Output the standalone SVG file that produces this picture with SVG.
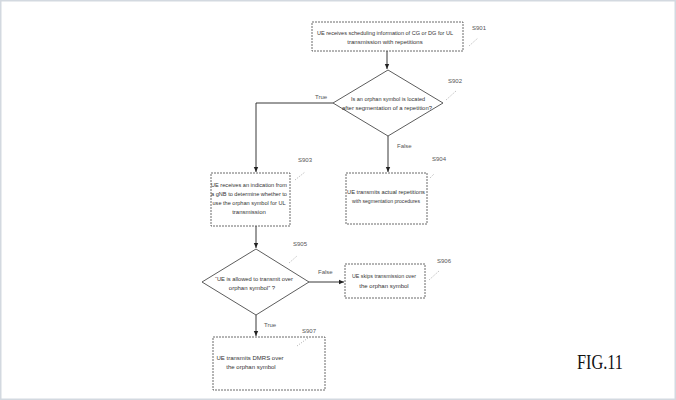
<svg xmlns="http://www.w3.org/2000/svg" width="676" height="400" viewBox="0 0 676 400">
<defs>
<marker id="ah" markerWidth="6" markerHeight="6" refX="5" refY="3" orient="auto" markerUnits="userSpaceOnUse">
<path d="M0,0.8 L5,3 L0,5.2 Z" fill="#222"/>
</marker>
<style>
.box{fill:#fff;stroke:#444;stroke-width:0.8;stroke-dasharray:2 1}
.dia{fill:#fff;stroke:#333;stroke-width:0.8}
.t{font-family:"Liberation Sans",Arial,sans-serif;font-size:6px;fill:#333;text-anchor:middle}
.lb{font-family:"Liberation Sans",Arial,sans-serif;font-size:6px;fill:#555}
.ld{fill:none;stroke:#777;stroke-width:0.6;stroke-dasharray:1 1.5}
.c{fill:none;stroke:#222;stroke-width:0.9}
.fig{font-family:"Liberation Serif","Times New Roman",serif;font-size:21px;fill:#111}
</style>
</defs>
<rect x="0" y="0" width="676" height="400" fill="#fff"/>
<rect x="0.75" y="0.75" width="674.5" height="398.5" fill="none" stroke="#d3d9e0" stroke-width="1.5"/>

<g id="connectors">
<path class="c" d="M387,51 V69" marker-end="url(#ah)"/>
<path class="c" d="M333,103 H256 V172" marker-end="url(#ah)"/>
<path class="c" d="M388,136 V172" marker-end="url(#ah)"/>
<path class="c" d="M256,226 V248" marker-end="url(#ah)"/>
<path class="c" d="M309,282 H344" marker-end="url(#ah)"/>
<path class="c" d="M256,315 V336" marker-end="url(#ah)"/>
<text class="lb" x="315" y="99">True</text>
<text class="lb" x="397" y="148">False</text>
<text class="lb" x="318" y="274">False</text>
<text class="lb" x="264" y="327">True</text>
</g>

<g id="S901">
<rect class="box" x="312" y="22" width="151" height="29"/>
<text class="t" x="385" y="35" textLength="136" lengthAdjust="spacingAndGlyphs">UE receives scheduling information of CG or DG for UL</text>
<text class="t" x="385" y="44">transmission with repetitions</text>
<text class="lb" x="472" y="30">S901</text>
<path class="ld" d="M469,46 L478,38"/>
</g>

<g id="S902">
<polygon class="dia" points="388,70 443,103 388,136 333,103"/>
<text class="t" x="388" y="101" textLength="74" lengthAdjust="spacingAndGlyphs">Is an orphan symbol is located</text>
<text class="t" x="387" y="110" textLength="90" lengthAdjust="spacingAndGlyphs">after segmentation of a repetition?</text>
<text class="lb" x="448" y="83">S902</text>
<path class="ld" d="M446,100 L456,91"/>
</g>

<g id="S903">
<rect class="box" x="211" y="173" width="79" height="53"/>
<text class="t" x="249" y="187" textLength="76" lengthAdjust="spacingAndGlyphs">UE receives an indication from</text>
<text class="t" x="249" y="196" textLength="76" lengthAdjust="spacingAndGlyphs">a gNB to determine whether to</text>
<text class="t" x="249" y="205" textLength="73" lengthAdjust="spacingAndGlyphs">use the orphan symbol for UL</text>
<text class="t" x="249" y="214">transmission</text>
<text class="lb" x="298" y="162">S903</text>
<path class="ld" d="M295,180 L305,172"/>
</g>

<g id="S904">
<rect class="box" x="346" y="173" width="81" height="51"/>
<text class="t" x="386" y="194" textLength="78" lengthAdjust="spacingAndGlyphs">UE transmits actual repetitions</text>
<text class="t" x="386" y="203" textLength="68" lengthAdjust="spacingAndGlyphs">with segmentation procedures</text>
<text class="lb" x="432" y="161">S904</text>
<path class="ld" d="M430,178 L434,174"/>
</g>

<g id="S905">
<polygon class="dia" points="256,249 309,282 256,315 202,282"/>
<text class="t" x="254" y="281" textLength="78" lengthAdjust="spacingAndGlyphs">“UE is allowed to transmit over</text>
<text class="t" x="252" y="290">orphan symbol” ?</text>
<text class="lb" x="293" y="246">S905</text>
<path class="ld" d="M289,263 L297,256"/>
</g>

<g id="S906">
<rect class="box" x="345" y="264" width="80" height="34"/>
<text class="t" x="384" y="278" textLength="64" lengthAdjust="spacingAndGlyphs">UE skips transmission over</text>
<text class="t" x="384" y="288">the orphan symbol</text>
<text class="lb" x="437" y="263">S906</text>
<path class="ld" d="M429,280 L439,271"/>
</g>

<g id="S907">
<rect class="box" x="213" y="337" width="112" height="53"/>
<text class="t" x="250" y="360">UE transmits DMRS over</text>
<text class="t" x="251" y="369">the orphan symbol</text>
<text class="lb" x="302" y="333">S907</text>
<path class="ld" d="M297,346 L308,338"/>
</g>

<text class="fig" x="577" y="369" textLength="46" lengthAdjust="spacingAndGlyphs">FIG.11</text>
</svg>
